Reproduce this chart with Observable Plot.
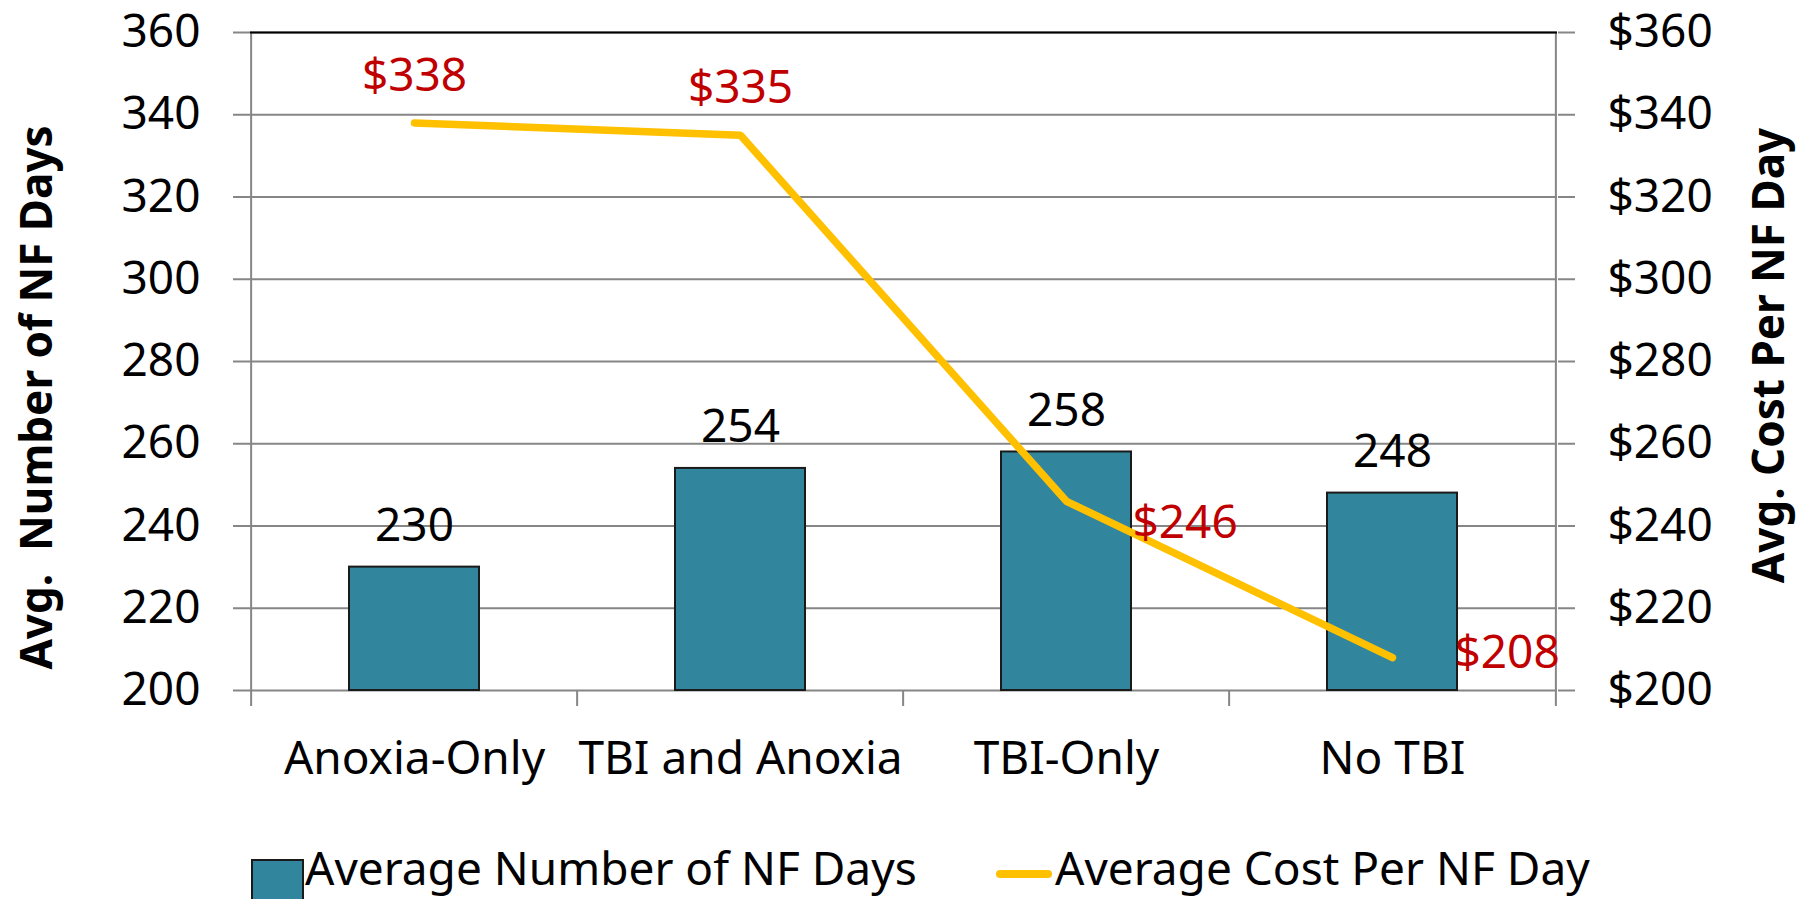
<!DOCTYPE html>
<html>
<head>
<meta charset="utf-8">
<script src="https://cdn.jsdelivr.net/npm/d3@7"></script>
<script src="https://cdn.jsdelivr.net/npm/@observablehq/plot@0.6"></script>
<style>
  html, body { margin: 0; padding: 0; background: #fff; }
  body { width: 1808px; height: 899px; overflow: hidden; font-family: "Noto Sans", sans-serif; }
  #chart svg { display: block; overflow: visible; }
  #legend { position: relative; width: 1808px; height: 59px; font-size: 46px; color: #000; }
  #legend .sw-bar { position: absolute; left: 251px; top: 19px; width: 49px; height: 40px; background: #31859C; border: 2px solid #1a1a1a; }
  #legend .sw-line { position: absolute; left: 996px; top: 30px; width: 56px; height: 8px; border-radius: 4px; background: #FFC000; }
  #legend .txt { position: absolute; top: 4px; line-height: 46px; white-space: nowrap; }
</style>
</head>
<body>
<div id="chart"></div>
<div id="legend">
  <div class="sw-bar"></div><div class="txt" id="lg1" style="left:305px"></div>
  <div class="sw-line"></div><div class="txt" id="lg2" style="left:1055px"></div>
</div>
<script>
// ---- data ----
const categories = ["Anoxia-Only", "TBI and Anoxia", "TBI-Only", "No TBI"];
const avgDays = [230, 254, 258, 248];
const avgCost = [338, 335, 246, 208];
const yTicks = [200, 220, 240, 260, 280, 300, 320, 340, 360];
const seriesNames = ["Average Number of NF Days", "Average Cost Per NF Day"];
const leftTitle = "Avg.  Number of NF Days";
const rightTitle = "Avg. Cost Per NF Day";
// label offsets (style only): [dx, dy, anchor]
const costLabelOffsets = [[0, -32, "middle"], [0, -32, "middle"], [66, 37, "start"], [62, 10, "start"]];

const rows = categories.map((c, i) => ({cat: c, days: avgDays[i], cost: avgCost[i]}));

const W = 1808, H = 840;
const mL = 250, mR = 251, mT = 32, mB = 150;
const step = (W - mL - mR) / categories.length;
const y0 = yTicks[0], yTop = yTicks[yTicks.length - 1];
const gray = "#868686";
const fs = 46;

const costLabelMarks = rows.map((r, i) => Plot.text([r], {
  x: "cat", y: "cost", text: d => "$" + d.cost,
  dx: costLabelOffsets[i][0], dy: costLabelOffsets[i][1],
  textAnchor: costLabelOffsets[i][2], lineAnchor: "bottom",
  fill: "#C00000", fontSize: fs
}));

const chart = Plot.plot({
  width: W, height: H,
  marginLeft: mL, marginRight: mR, marginTop: mT, marginBottom: mB,
  style: {fontFamily: "Noto Sans, sans-serif", background: "#fff", overflow: "visible"},
  x: {type: "band", domain: categories, paddingInner: 0.6, paddingOuter: 0.3},
  y: {domain: [y0, yTop]},
  marks: [
    // gridlines
    Plot.ruleY(yTicks, {stroke: gray, strokeWidth: 2}),
    // axes with outward ticks
    Plot.axisY({anchor: "left", ticks: yTicks, tickSize: 17, tickPadding: 33, fontSize: fs,
      stroke: gray, strokeWidth: 2, fill: "#000", tickFormat: d => String(d), label: null}),
    Plot.axisY({anchor: "right", ticks: yTicks, tickSize: 17, tickPadding: 33, fontSize: fs,
      stroke: gray, strokeWidth: 2, fill: "#000", tickFormat: d => "$" + d, label: null}),
    Plot.axisX({tickSize: 0, tickPadding: 51, fontSize: fs, fill: "#000", label: null}),
    // category boundary ticks + vertical axis lines
    Plot.ruleX(categories, {x: d => d, dx: -step / 2, y1: (d, i) => i === 0 ? yTop : y0, y2: y0,
      insetBottom: -16, stroke: gray, strokeWidth: 2}),
    Plot.ruleX(categories.slice(-1), {x: d => d, dx: step / 2, y1: yTop, y2: y0,
      insetBottom: -16, stroke: gray, strokeWidth: 2}),
    // top border
    Plot.ruleY([yTop], {stroke: "#000", strokeWidth: 2}),
    // bars
    Plot.barY(rows, {x: "cat", y1: y0, y2: "days", fill: "#31859C", stroke: "#1a1a1a", strokeWidth: 2}),
    Plot.text(rows, {x: "cat", y: "days", text: d => String(d.days), dy: -26, lineAnchor: "bottom",
      fill: "#000", fontSize: fs}),
    // line
    Plot.line(rows, {x: "cat", y: "cost", stroke: "#FFC000", strokeWidth: 7.5,
      strokeLinecap: "round", strokeLinejoin: "miter"}),
    ...costLabelMarks,
    // axis titles
    Plot.text([leftTitle], {frameAnchor: "left", dx: 51 - mL, dy: 36, rotate: -90,
      textAnchor: "middle", lineAnchor: "bottom", fontSize: 44, fontWeight: "bold", fill: "#000"}),
    Plot.text([rightTitle], {frameAnchor: "right", dx: 226, dy: -6, rotate: -90,
      textAnchor: "middle", lineAnchor: "bottom", fontSize: 44, fontWeight: "bold", fill: "#000"})
  ]
});
document.getElementById("chart").appendChild(chart);
document.getElementById("lg1").textContent = seriesNames[0];
document.getElementById("lg2").textContent = seriesNames[1];
</script>
</body>
</html>
